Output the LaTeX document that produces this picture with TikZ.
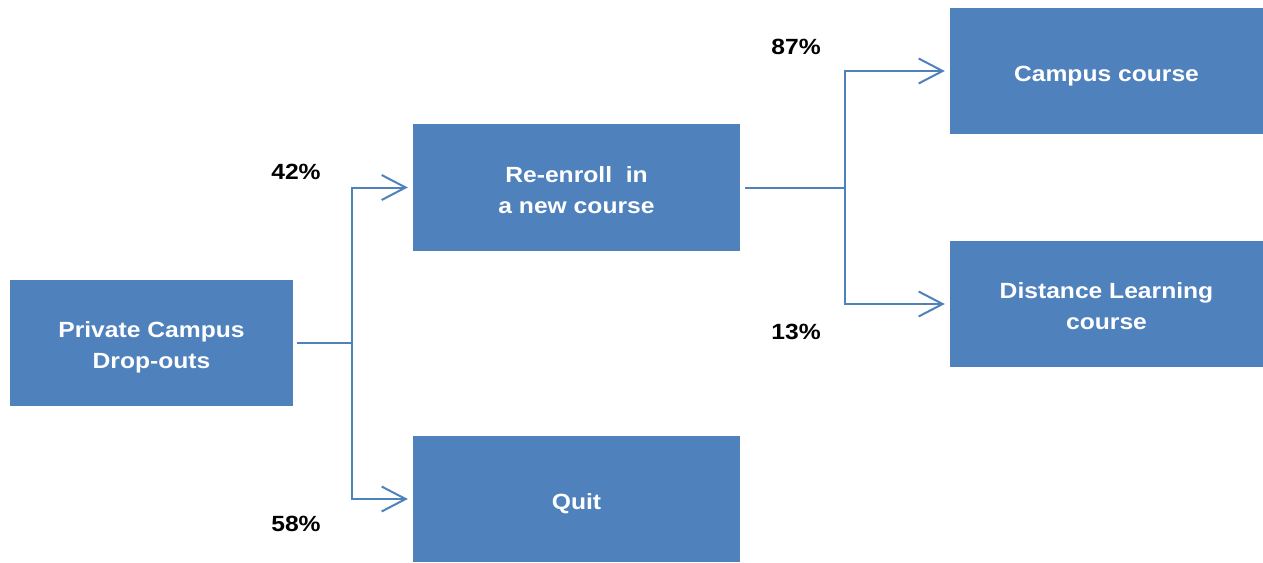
\documentclass[tikz,border=0pt]{standalone}
\usepackage{fontspec}
\setmainfont{Liberation Sans}
\newfontfamily\widefont[FakeStretch=1.12]{Liberation Sans}
\usetikzlibrary{arrows.meta}
\definecolor{boxblue}{RGB}{79,129,189}
\newcommand{\downtext}[1]{\raisebox{-4pt}[\height][\depth]{\begin{tabular}{@{}c@{}}#1\end{tabular}}}
\tikzset{
  flowbox/.style={fill=boxblue, draw=none, text=white, font=\widefont\bfseries\fontsize{22}{31}\selectfont, inner sep=0pt},
  pct/.style={text=black, font=\widefont\bfseries\fontsize{22}{26}\selectfont, inner sep=0pt},
  link/.style={draw=boxblue, line width=2pt},
  arrlink/.style={link, -{Straight Barb[length=24pt, width=25pt, line width=2pt]}}
}
\begin{document}
\begin{tikzpicture}[x=1pt, y=-1pt]
\useasboundingbox (0,0) rectangle (1263,562);
\node[flowbox, minimum width=283pt, minimum height=126pt] (A) at (151.5,343) {\downtext{Private Campus\\Drop-outs}};
\node[flowbox, minimum width=327pt, minimum height=127pt] (B) at (576.5,187.5) {\downtext{Re-enroll\ \ in\\a new course}};
\node[flowbox, minimum width=327pt, minimum height=126pt] (Q) at (576.5,499) {\downtext{Quit}};
\node[flowbox, minimum width=313pt, minimum height=126pt] (C) at (1106.5,71) {\downtext{Campus course}};
\node[flowbox, minimum width=313pt, minimum height=126pt] (D) at (1106.5,304) {\downtext{Distance Learning\\course}};
\node[pct] (p42) at (296,172) {42\%};
\node[pct] (p58) at (296,524) {58\%};
\node[pct] (p87) at (796,47) {87\%};
\node[pct] (p13) at (796,332) {13\%};
\coordinate (j1) at (352,343);
\coordinate (j2) at (845,188);
\draw[link] ([xshift=4pt]A.east) -- (j1);
\draw[arrlink] (j1) |- ([xshift=-5pt]B.west);
\draw[arrlink] (j1) |- ([xshift=-5pt]Q.west);
\draw[link] ([xshift=5pt]B.east|-j2) -- (j2);
\draw[arrlink] (j2) |- ([xshift=-5pt]C.west);
\draw[arrlink] (j2) |- ([xshift=-5pt]D.west);
\end{tikzpicture}
\end{document}
